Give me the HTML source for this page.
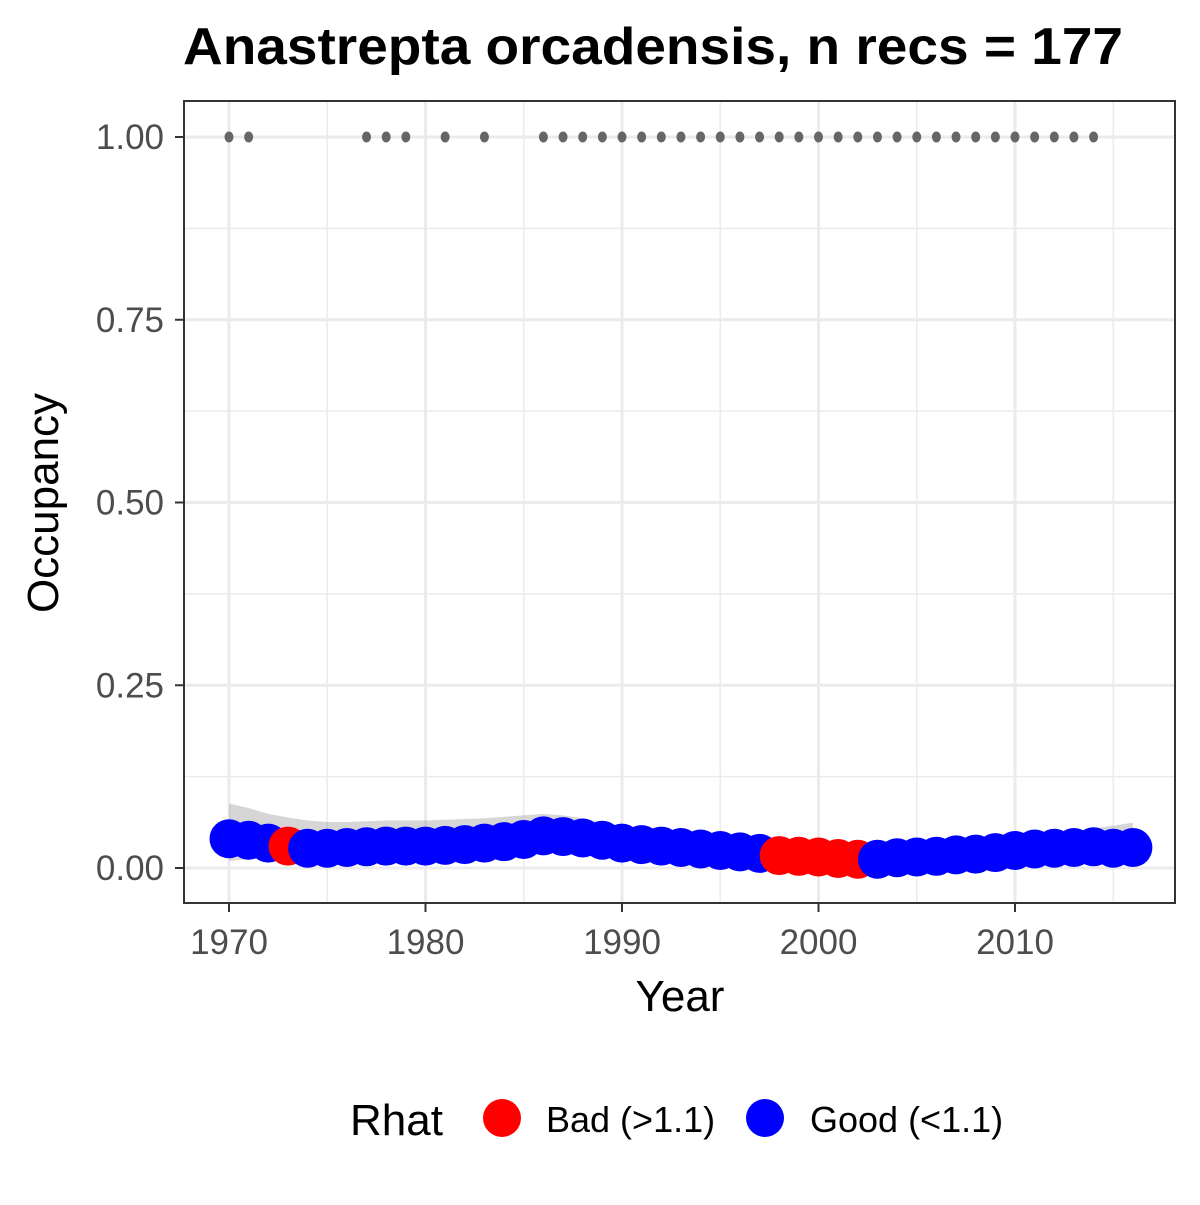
<!DOCTYPE html>
<html><head><meta charset="utf-8"><style>
body{margin:0;background:#fff;font-family:"Liberation Sans",Arial,sans-serif}
</style></head><body>
<svg id="chart" width="1200" height="1200" xmlns="http://www.w3.org/2000/svg" font-family="Liberation Sans, Arial, sans-serif">
<rect width="1200" height="1200" fill="#fff"/>
<text x="653" y="64" text-anchor="middle" font-size="52" font-weight="bold" textLength="940" lengthAdjust="spacingAndGlyphs">Anastrepta orcadensis, n recs = 177</text>
<g id="grid"></g>
<g id="ribbon"></g>
<g id="dots"></g>
<g id="pts"></g>
<rect x="184" y="101" width="991" height="802" fill="none" stroke="#333" stroke-width="2"/>
<g id="axes"></g>
<text x="680" y="1011" text-anchor="middle" font-size="44">Year</text>
<text transform="translate(58,503) rotate(-90)" text-anchor="middle" font-size="44">Occupancy</text>
<g>
<text x="350" y="1135" font-size="44">Rhat</text>
<circle cx="502" cy="1118" r="19" fill="#f00"/>
<text x="546" y="1132" font-size="36">Bad (&gt;1.1)</text>
<circle cx="765" cy="1118" r="19" fill="#00f"/>
<text x="810" y="1132" font-size="36">Good (&lt;1.1)</text>
</g>
</svg>
<script>
const years=[1970,1971,1972,1973,1974,1975,1976,1977,1978,1979,1980,1981,1982,1983,1984,1985,1986,1987,1988,1989,1990,1991,1992,1993,1994,1995,1996,1997,1998,1999,2000,2001,2002,2003,2004,2005,2006,2007,2008,2009,2010,2011,2012,2013,2014,2015,2016];
const occupancy=[0.040,0.038,0.034,0.030,0.027,0.027,0.028,0.029,0.030,0.030,0.030,0.031,0.032,0.034,0.036,0.039,0.044,0.043,0.041,0.038,0.034,0.032,0.030,0.028,0.026,0.024,0.022,0.020,0.017,0.016,0.015,0.013,0.012,0.012,0.014,0.015,0.016,0.018,0.019,0.021,0.024,0.026,0.027,0.028,0.029,0.027,0.028];
const rhatBad=[0,0,0,1,0,0,0,0,0,0,0,0,0,0,0,0,0,0,0,0,0,0,0,0,0,0,0,0,1,1,1,1,1,0,0,0,0,0,0,0,0,0,0,0,0,0,0];
const upper=[0.088,0.082,0.074,0.069,0.065,0.063,0.063,0.064,0.065,0.065,0.065,0.066,0.067,0.068,0.070,0.072,0.074,0.072,0.068,0.062,0.056,0.052,0.048,0.045,0.042,0.040,0.038,0.036,0.034,0.032,0.031,0.030,0.030,0.030,0.031,0.032,0.033,0.035,0.037,0.039,0.042,0.045,0.048,0.051,0.054,0.058,0.062];
const lower=[0.010,0.012,0.014,0.015,0.015,0.015,0.015,0.016,0.016,0.016,0.016,0.016,0.017,0.018,0.019,0.021,0.024,0.024,0.023,0.021,0.019,0.017,0.015,0.013,0.012,0.010,0.009,0.008,0.006,0.005,0.004,0.004,0.003,0.003,0.004,0.005,0.006,0.007,0.008,0.009,0.010,0.011,0.011,0.011,0.010,0.009,0.008];
const recordYears=[1970,1971,1977,1978,1979,1981,1983,1986,1987,1988,1989,1990,1991,1992,1993,1994,1995,1996,1997,1998,1999,2000,2001,2002,2003,2004,2005,2006,2007,2008,2009,2010,2011,2012,2013,2014];
const xTicks=[1970,1980,1990,2000,2010];
const yTicks=[0,0.25,0.5,0.75,1];
const yTickLabels=["0.00","0.25","0.50","0.75","1.00"];
const NS="http://www.w3.org/2000/svg";
const X=v=>229+(v-1970)*19.65;
const Y=v=>868-v*731;
function mk(tag,attrs,parent){const e=document.createElementNS(NS,tag);for(const k in attrs)e.setAttribute(k,attrs[k]);document.getElementById(parent).appendChild(e);return e;}
for(let y=1965;y<=2020;y+=5){const x=X(y);if(x<185||x>1174)continue;const major=y%10===0;
const l=mk('line',{x1:x,x2:x,y1:102,y2:902,stroke:'#ebebeb','stroke-width':major?3:1.5},'grid');

}
for(let v=-0.125;v<=1.2;v+=0.125){const y=Y(v);if(y<102||y>902)continue;const major=Math.abs(v*4-Math.round(v*4))<1e-6;
const l=mk('line',{x1:185,x2:1174,y1:y,y2:y,stroke:'#ebebeb','stroke-width':major?3:1.5},'grid');

}
let d='M'+years.map((y,i)=>X(y)+','+Y(upper[i])).join('L');
for(let i=years.length-1;i>=0;i--)d+='L'+X(years[i])+','+Y(lower[i]);
const rb=mk('path',{d:d+'Z',fill:'#999','fill-opacity':0.4},'ribbon');


recordYears.forEach(y=>{const c=mk('ellipse',{cx:X(y),cy:Y(1),rx:4.5,ry:5.5,fill:'#666'},'dots');

});
years.forEach((y,i)=>{const c=mk('circle',{cx:X(y),cy:Y(occupancy[i]),r:19.5,fill:rhatBad[i]?'#f00':'#00f'},'pts');

});
xTicks.forEach(t=>{const x=X(t);mk('line',{x1:x,x2:x,y1:903,y2:912,stroke:'#333','stroke-width':2},'axes');
const tx=mk('text',{x:x,y:954,'text-anchor':'middle','font-size':35,fill:'#4d4d4d'},'axes');tx.textContent=t;

});
yTicks.forEach((t,i)=>{const y=Y(t);mk('line',{x1:175,x2:184,y1:y,y2:y,stroke:'#333','stroke-width':2},'axes');
const tx=mk('text',{x:164,y:y+12,'text-anchor':'end','font-size':35,fill:'#4d4d4d'},'axes');tx.textContent=yTickLabels[i];

});
</script>
</body></html>
